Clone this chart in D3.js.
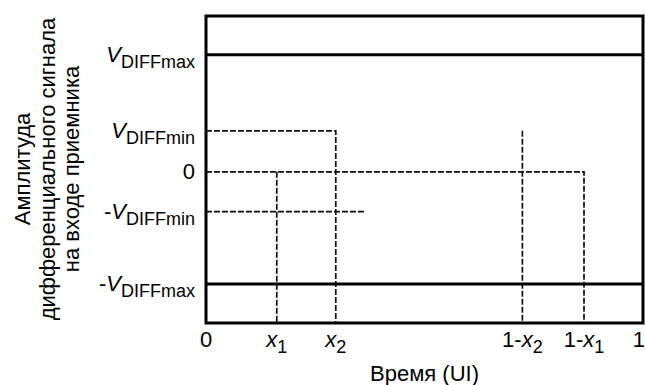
<!DOCTYPE html>
<html>
<head>
<meta charset="utf-8">
<script src="https://cdn.jsdelivr.net/npm/d3@7"></script>
<style>
  html, body { margin: 0; padding: 0; background: #fff; }
  svg { display: block; }
  text { font-family: "Liberation Sans", Arial, sans-serif; fill: #000; }
</style>
</head>
<body>
<script>
// ---- Data ----
const xTicks      = [0, 0.162, 0.297, 0.724, 0.865, 1];
const xTickMain   = ["0", "x", "x", "1-", "1-", "1"];
const xTickItalic = ["", "", "", "x", "x", ""];
const xTickSub    = ["", "1", "2", "2", "1", ""];

const yLevels     = [1.0, 0.35, 0, -0.34, -0.957];
const yTickPrefix = ["", "", "", "-", "-"];
const yTickMain   = ["V", "V", "0", "V", "V"];
const yTickSub    = ["DIFFmax", "DIFFmin", "", "DIFFmin", "DIFFmax"];
const yDomain     = [-1.29, 1.33];

const solidLevels = [1.0, -0.957];
const maskLines = [
  [[0, 0.35], [0.297, 0.35], [0.297, -1.29]],
  [[0, 0], [0.865, 0], [0.865, -1.29]],
  [[0.162, 0], [0.162, -1.29]],
  [[0.724, 0.35], [0.724, -1.29]],
  [[0, -0.34], [0.363, -0.34]]
];

const xTitle = "Время (UI)";
const yTitleLines = ["Амплитуда", "дифференциального сигнала", "на входе приемника"];

// ---- Drawing ----
const W = 645, H = 385;
const svg = d3.select("body").append("svg").attr("width", W).attr("height", H);
svg.append("rect").attr("width", W).attr("height", H).attr("fill", "#fff");

const x = d3.scaleLinear().domain([0, 1]).range([206, 643]);
const y = d3.scaleLinear().domain(yDomain).range([323, 16]);

const line = d3.line().x(d => x(d[0])).y(d => y(d[1]));

// dashed mask lines
svg.append("g").selectAll("path").data(maskLines).join("path")
  .attr("d", line)
  .attr("fill", "none")
  .attr("stroke", "#111")
  .attr("stroke-width", 1.7)
  .attr("stroke-dasharray", "6,2");

// solid limit lines
svg.append("g").selectAll("line").data(solidLevels).join("line")
  .attr("x1", x(0)).attr("x2", x(1))
  .attr("y1", d => y(d)).attr("y2", d => y(d))
  .attr("stroke", "#000").attr("stroke-width", 3);

// frame
svg.append("rect")
  .attr("x", x(0)).attr("y", y(yDomain[1]))
  .attr("width", x(1) - x(0)).attr("height", y(yDomain[0]) - y(yDomain[1]))
  .attr("fill", "none").attr("stroke", "#000").attr("stroke-width", 3);

// y tick labels
const yl = svg.append("g").selectAll("text").data(yLevels).join("text")
  .attr("x", 195)
  .attr("y", d => y(d) + 7)
  .attr("text-anchor", "end")
  .attr("font-size", 22);
yl.each(function(d, i) {
  const t = d3.select(this);
  if (yTickPrefix[i]) t.append("tspan").text(yTickPrefix[i]);
  t.append("tspan").attr("font-style", yTickMain[i] === "V" ? "italic" : "normal").text(yTickMain[i]);
  if (yTickSub[i]) t.append("tspan").attr("font-size", 18).attr("dy", 6).text(yTickSub[i]);
});

// x tick labels
const xl = svg.append("g").selectAll("text").data(xTicks).join("text")
  .attr("x", (d, i) => i === xTicks.length - 1 ? x(d) + 2 : x(d))
  .attr("y", 347)
  .attr("text-anchor", (d, i) => i === xTicks.length - 1 ? "end" : "middle")
  .attr("font-size", 22);
xl.each(function(d, i) {
  const t = d3.select(this);
  if (xTickMain[i] === "x") {
    t.append("tspan").attr("font-style", "italic").text("x");
  } else {
    t.append("tspan").text(xTickMain[i]);
  }
  if (xTickItalic[i]) t.append("tspan").attr("font-style", "italic").text(xTickItalic[i]);
  if (xTickSub[i]) t.append("tspan").attr("font-size", 18).attr("dy", 6).text(xTickSub[i]);
});

// x title
svg.append("text")
  .attr("x", (x(0) + x(1)) / 2)
  .attr("y", 381)
  .attr("text-anchor", "middle")
  .attr("font-size", 22)
  .text(xTitle);

// y title
const yTitleX = [30, 54.5, 79];
svg.append("g").selectAll("text").data(yTitleLines).join("text")
  .attr("transform", (d, i) => `translate(${yTitleX[i]},169) rotate(-90)`)
  .attr("text-anchor", "middle")
  .attr("font-size", 22)
  .text(d => d);
</script>
</body>
</html>
